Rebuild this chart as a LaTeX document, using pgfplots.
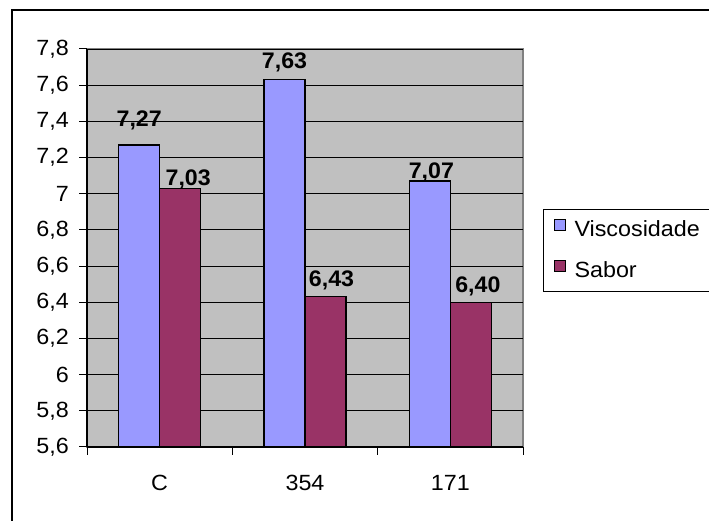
\documentclass[border=0pt]{standalone}
\usepackage{fontspec}
\setmainfont{Liberation Sans}[FakeStretch=1.06]
\newfontfamily\lblfont{Liberation Sans}[FakeStretch=1.03]
\usepackage{pgfplots}
\usepackage{pgfplotstable}
\pgfplotsset{compat=1.18}
\definecolor{plotbg}{HTML}{C0C0C0}
\definecolor{visc}{HTML}{9999FF}
\definecolor{sabor}{HTML}{993366}
\definecolor{frame}{HTML}{808080}

\pgfplotstableread{
x y dx dy
0 7.27 0 18
1 7.63 0 11
2 7.07 1.5 3
}\visc
\pgfplotstableread{
x y dx dy
0 7.03 8 3
1 6.43 6 10
2 6.40 7 10
}\sabor

\begin{document}
\begin{tikzpicture}[x=1bp,y=1bp]
\useasboundingbox (0,0) rectangle (709,521);
\clip (0,0) rectangle (709,521);
\fill[white] (0,0) rectangle (709,521);
\draw[line width=1.5bp] (12,-20) -- (12,511) -- (740,511);
\begin{axis}[
  at={(87bp,74bp)}, anchor=south west,
  width=436bp, height=398bp, scale only axis,
  ybar=0pt, bar width=41bp,
  xmin=-0.5, xmax=2.5, ymin=5.6, ymax=7.8,
  axis x line*=bottom, axis y line*=left,
  axis line style={black, line width=1.3bp},
  axis background/.style={fill=plotbg, draw=frame, line width=1.2bp},
  tick align=outside, major tick length=8bp,
  tick style={black, line width=1bp},
  ymajorgrids, major grid style={black, line width=0.9bp},
  ytick={5.6,5.8,6,6.2,6.4,6.6,6.8,7,7.2,7.4,7.6,7.8},
  /pgf/number format/.cd, use comma, fixed, precision=1, assume math mode=true,
  /pgfplots/.cd,
  yticklabel style={font=\fontsize{22bp}{26bp}\selectfont, inner sep=0pt, xshift=-10bp},
  xtick={-0.5,0.5,1.5,2.5}, xticklabels={},
  extra x ticks={0,1,2}, extra x tick labels={C,354,171},
  extra x tick style={major tick length=0pt,
     xticklabel style={font=\fontsize{22bp}{26bp}\selectfont, inner sep=0pt, yshift=-28bp}},
  visualization depends on={\thisrow{dx}\as\dx},
  visualization depends on={\thisrow{dy}\as\dy},
  nodes near coords={\pgfmathprintnumber[fixed,fixed zerofill,precision=2,use comma]{\pgfplotspointmeta}},
  nodes near coords style={font=\lblfont\bfseries\fontsize{22.5bp}{26bp}\selectfont,
     anchor=base, inner sep=0pt, xshift=\dx bp, yshift=\dy bp},
  legend style={at={(1.0459,0.598)}, anchor=north west, draw=black, line width=1bp,
     fill=white, font=\fontsize{22bp}{26bp}\selectfont,
     inner xsep=10bp, inner ysep=10bp, row sep=19bp, column sep=9bp,
     nodes={inner sep=0pt, text height=16bp, text depth=4bp},
     cells={anchor=west}},
  legend cell align=left,
]
\addplot[fill=visc, draw=black, line width=1.3bp,
  legend image code/.code={\draw[fill=visc, draw=black, line width=1bp] (0bp,0bp) rectangle (11bp,11bp);}]
  table[x=x,y=y]{\visc};
\addplot[fill=sabor, draw=black, line width=1.3bp,
  legend image code/.code={\draw[fill=sabor, draw=black, line width=1bp] (0bp,0bp) rectangle (11bp,11bp);}]
  table[x=x,y=y]{\sabor};
\legend{Viscosidade, Sabor}
\end{axis}
\end{tikzpicture}
\end{document}
